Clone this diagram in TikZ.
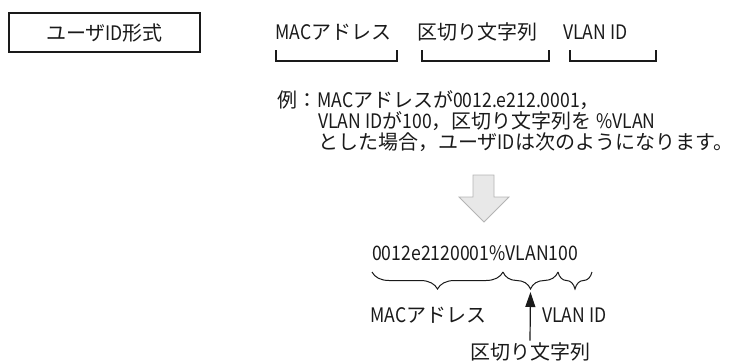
\documentclass[tikz,border=0pt]{standalone}
\usepackage{fontspec}
\setmainfont{Noto Sans CJK JP}
\newfontfamily\lat{Noto Sans CJK JP}[FakeStretch=0.88]
\usetikzlibrary{arrows.meta,positioning,decorations.pathreplacing}
\definecolor{ink}{HTML}{1A1A1A}
\definecolor{hollow}{HTML}{E8E8E8}
\definecolor{hollowb}{HTML}{B4B4B4}
\newcommand{\figfont}{\fontsize{20pt}{24pt}\selectfont}

\begin{document}
\begin{tikzpicture}[x=1pt, y=-1pt,
  font=\figfont, text=ink, >={Triangle[length=15pt,width=10pt]},
  box/.style={draw=ink, line width=1.4pt, minimum width=191pt, minimum height=39pt, inner sep=0pt},
  lab/.style={inner sep=0pt, anchor=west},
  brk/.style={draw=ink, line width=1.2pt},
  brc/.style={draw=ink, line width=1pt, decorate, decoration={brace, mirror, amplitude=17pt}},
  flow/.style={->, draw=ink, line width=1.2pt}
]
\useasboundingbox (0,0) rectangle (752,362);

% ---- format box
\node[box] (fmt) at (104.5,32.5) {ユーザ{\lat ID}形式};

% ---- fields
\node[lab] (mac) at (275,32) {{\lat MAC}アドレス};
\node[lab] (sep) at (417,32) {区切り文字列};
\node[lab] (vlan) at (563,32) {\lat VLAN ID};
\foreach \a/\b in {276/397,422/549,570/656}
  \draw[brk] (\a,50) -- (\a,61) -- (\b,61) -- (\b,50);

% ---- example
\node[lab] (ex1) at (277,100) {例：{\lat MAC}アドレスが{\lat 0012.e212.0001}，};
\node[lab] (ex2) at (318,121) {{\lat VLAN ID}が{\lat 100}，区切り文字列を {\lat \%VLAN}};
\node[lab] (ex3) at (318,142) {とした場合，ユーザ{\lat ID}は次のようになります。};

% ---- hollow arrow
\draw[draw=hollowb, fill=hollow, line width=0.8pt]
  (473,175) -- (494,175) -- (494,197) -- (509,197) -- (484,222) -- (459,197) -- (473,197) -- cycle;

% ---- result
\node[lab] (res) at (372,253) {\lat 0012e2120001\%VLAN100};
\coordinate (b0) at (372,272);
\coordinate (b1) at (503,272);
\coordinate (b2) at (558,272);
\coordinate (b3) at (592,272);
\draw[brc] (b0) -- (b1);
\draw[brc] (b1) -- (b2);
\draw[brc] (b2) -- (b3);
\coordinate (septip) at (530.5,292);

\node[lab] (macl) at (370,315) {{\lat MAC}アドレス};
\node[lab] (vlanl) at (542,315) {\lat VLAN ID};
\node[inner sep=0pt] (sepl) at (530,352) {区切り文字列};
\draw[flow] ([yshift=2pt]sepl.north) -- (septip);
\end{tikzpicture}
\end{document}
